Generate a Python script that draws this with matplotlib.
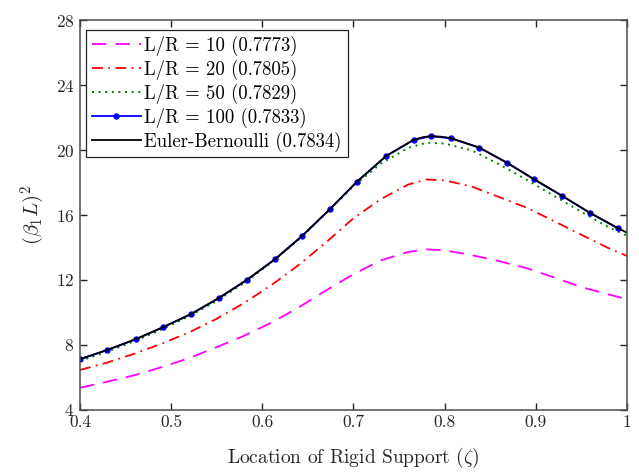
import numpy as np
import matplotlib
matplotlib.use("Agg")
from matplotlib import pyplot as plt
from matplotlib.ticker import FuncFormatter

plt.rcParams['font.family'] = 'serif'
plt.rcParams['font.serif'] = ['cmr10']
plt.rcParams['mathtext.fontset'] = 'cm'
plt.rcParams['axes.formatter.use_mathtext'] = True

# support location grid
zeta = [0.40, 0.43, 0.46, 0.49, 0.52, 0.55, 0.58, 0.61, 0.64, 0.67, 0.70,
        0.73, 0.76, 0.78, 0.80, 0.83, 0.86, 0.89, 0.92, 0.95, 0.98, 1.00]

lr10 = [5.34, 5.72, 6.12, 6.62, 7.18, 7.85, 8.55, 9.36, 10.30, 11.35, 12.35,
        13.20, 13.72, 13.88, 13.82, 13.52, 13.15, 12.72, 12.15, 11.55, 11.10, 10.80]
lr20 = [6.44, 6.90, 7.45, 8.07, 8.77, 9.60, 10.57, 11.68, 12.92, 14.32, 15.80,
        16.98, 17.88, 18.19, 18.14, 17.75, 17.10, 16.45, 15.62, 14.78, 13.95, 13.47]
lr50 = [7.00, 7.57, 8.22, 8.95, 9.76, 10.70, 11.81, 13.07, 14.49, 16.10, 17.78,
        19.17, 20.14, 20.46, 20.41, 19.98, 19.12, 18.17, 17.18, 16.19, 15.24, 14.72]

# L/R = 100 sampled at its marker points
zeta100 = [0.400, 0.430, 0.461, 0.491, 0.522, 0.552, 0.583, 0.614, 0.644, 0.674, 0.704,
           0.736, 0.766, 0.785, 0.807, 0.838, 0.868, 0.898, 0.929, 0.959, 0.990]
lr100 = [7.10, 7.67, 8.33, 9.07, 9.89, 10.86, 11.99, 13.27, 14.72, 16.35, 18.06,
         19.64, 20.63, 20.86, 20.73, 20.15, 19.23, 18.20, 17.17, 16.14, 15.18]

# Euler-Bernoulli beam, a little denser around the peak
zeta_eb = [0.400, 0.430, 0.461, 0.491, 0.522, 0.552, 0.583, 0.614, 0.644, 0.674, 0.704,
           0.736, 0.766, 0.776, 0.785, 0.796, 0.807, 0.838, 0.868, 0.898, 0.929, 0.959,
           0.990, 1.000]
euler = [7.11, 7.68, 8.34, 9.08, 9.90, 10.87, 12.00, 13.28, 14.73, 16.36, 18.07,
         19.65, 20.64, 20.80, 20.87, 20.83, 20.74, 20.16, 19.24, 18.21, 17.18, 16.15,
         15.19, 14.91]

labels = ['L/R = 10 (0.7773)', 'L/R = 20 (0.7805)', 'L/R = 50 (0.7829)',
          'L/R = 100 (0.7833)', 'Euler-Bernoulli (0.7834)']

fig = plt.figure(figsize=(6.39, 4.73), dpi=100)
ax = fig.add_axes([0.1252, 0.1342, 0.856, 0.8225])

ax.plot(zeta, lr10, color='#ff00ff', lw=1.3, dashes=(8, 5), label=labels[0])
ax.plot(zeta, lr20, color='#ff0000', lw=1.3, dashes=(6, 3, 1, 3), label=labels[1])
ax.plot(zeta, lr50, color='#008000', lw=1.4, dashes=(1, 2.4), label=labels[2])
ax.plot(zeta100, lr100, color='#0000ff', lw=1.3, marker='o', ms=3.6, label=labels[3])
ax.plot(zeta_eb, euler, color='black', lw=1.3, label=labels[4])

ax.set_xlim(0.4, 1.0)
ax.set_ylim(4, 28)
ax.set_xticks([0.4, 0.5, 0.6, 0.7, 0.8, 0.9, 1.0])
ax.set_yticks([4, 8, 12, 16, 20, 24, 28])
ax.xaxis.set_major_formatter(FuncFormatter(lambda v, p: '%g' % v))
ax.tick_params(direction='in', top=True, right=True, length=5, width=1.0,
               colors='#262626', labelsize=12.5)
ax.tick_params(axis='x', pad=4)
ax.tick_params(axis='y', pad=4)
for s in ax.spines.values():
    s.set_color('#4d4d4d')
    s.set_linewidth(1.1)

ax.set_xlabel(r'Location of Rigid Support ($\zeta$)', fontsize=14, color='#262626',
              labelpad=11)
ax.set_ylabel(r'$(\beta_1 L)^2$', fontsize=15, color='#262626', labelpad=6)

leg = ax.legend(loc='upper left', bbox_to_anchor=(0.0115, 0.975), fontsize=13.5,
                handlelength=2.6, handletextpad=0.2, borderpad=0.3,
                labelspacing=0.2, fancybox=False, framealpha=1, borderaxespad=0)
leg.get_frame().set_edgecolor('#262626')
leg.get_frame().set_linewidth(0.9)

fig.savefig('out.png', dpi=100)
